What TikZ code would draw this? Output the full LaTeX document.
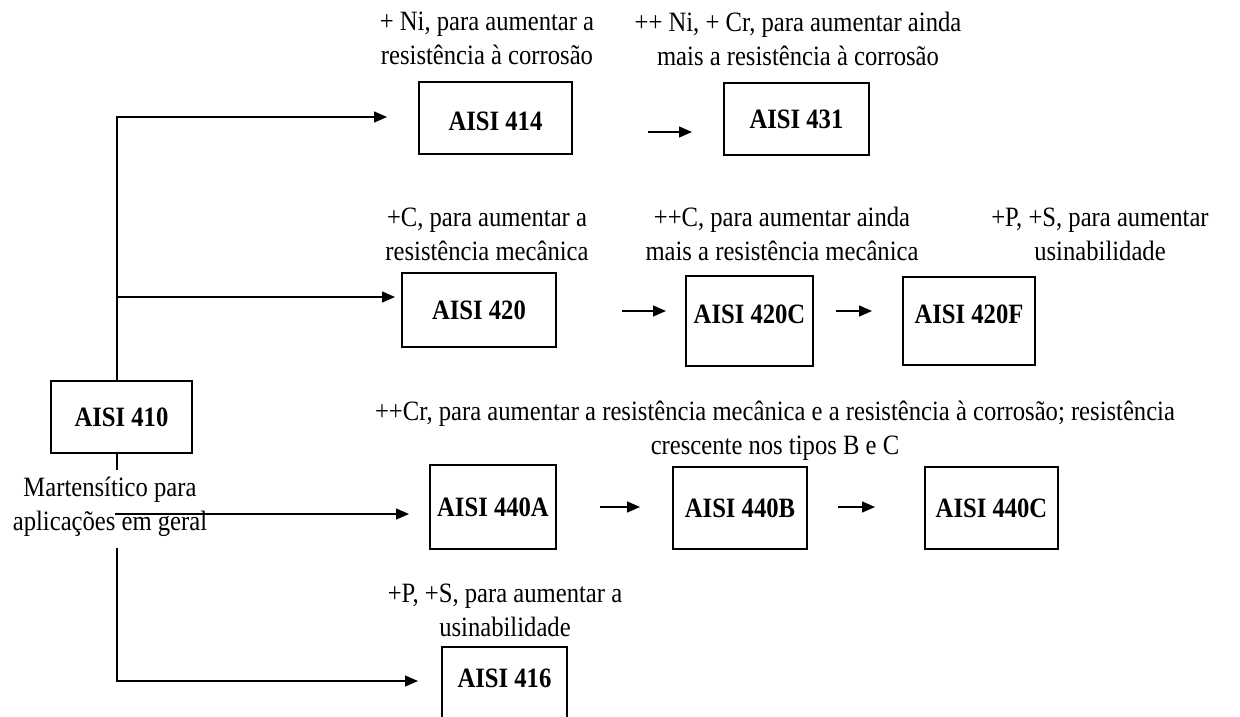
\documentclass[tikz,border=0pt]{standalone}
\usepackage{fontspec}
\setmainfont[FakeStretch=0.88]{Liberation Serif}
\usetikzlibrary{arrows.meta}
\tikzset{
  txt/.style={font=\fontsize{28}{34}\selectfont},
  steel/.style={draw, line width=1.4pt, inner sep=0pt, font=\fontsize{28}{34}\selectfont\bfseries},
  note/.style={txt, align=center, inner sep=0pt},
  arr/.style={line width=1.4pt, -{Triangle[length=13pt,width=11pt]}},
  ln/.style={line width=1.4pt}
}
\begin{document}
\begin{tikzpicture}[x=1pt,y=-1pt]
\useasboundingbox (0,0) rectangle (1240,717);
\fill[white] (0,0) rectangle (1240,717);

% steel grades
\node[steel, minimum width=141pt, minimum height=72pt] (n410) at (121.5,417) {AISI 410};
\node[steel, minimum width=153pt, minimum height=72pt, text height=26pt] (n414) at (495.5,118) {AISI 414};
\node[steel, minimum width=145pt, minimum height=72pt] (n431) at (796.5,119) {AISI 431};
\node[steel, minimum width=154pt, minimum height=74pt] (n420) at (479,310) {AISI 420};
\node[steel, minimum width=127pt, minimum height=90pt, text depth=14pt] (n420C) at (749.5,321) {AISI 420C};
\node[steel, minimum width=132pt, minimum height=88pt, text depth=14pt] (n420F) at (969,321) {AISI 420F};
\node[steel, minimum width=126pt, minimum height=84pt] (n440A) at (493,507) {AISI 440A};
\node[steel, minimum width=134pt, minimum height=82pt] (n440B) at (740,508) {AISI 440B};
\node[steel, minimum width=133pt, minimum height=82pt] (n440C) at (991.5,508) {AISI 440C};
\node[steel, minimum width=125pt, minimum height=83pt, text depth=21pt] (n416) at (504.5,688.5) {AISI 416};

% notes on each alloying step
\node[note] (l414) at (487,38) {+ Ni, para aumentar a\\resistência à corrosão};
\node[note] (l431) at (798,39) {++ Ni, + Cr, para aumentar ainda\\mais a resistência à corrosão};
\node[note] (l420) at (487,234) {+C, para aumentar a\\resistência mecânica};
\node[note] (l420C) at (782,234) {++C, para aumentar ainda\\mais a resistência mecânica};
\node[note] (l420F) at (1100,234) {+P, +S, para aumentar\\usinabilidade};
\node[note] (l440) at (775,431) {++Cr, para aumentar a resistência mecânica e a resistência à corrosão; resistência\\crescente nos tipos B e C};
\node[note] (l416) at (505,610) {+P, +S, para aumentar a\\usinabilidade};
\node[note] (l410) at (110,507) {Martensítico para\\aplicações em geral};

% trunk and branch points
\coordinate (trunk) at (117,0);
\coordinate (t1) at (387,117);
\coordinate (j2) at (117,297);
\coordinate (t2) at (395,297);
\coordinate (m1) at (117,470);
\coordinate (m2) at (115,514);
\coordinate (t3) at (409,514);
\coordinate (m3) at (117,548);
\coordinate (t4) at (418,681);

\draw[arr] (n410.north -| trunk) |- (t1);
\draw[arr] (j2) -- (t2);
\draw[ln] (n410.south -| trunk) -- (m1);
\draw[arr] (m2) -- (t3);
\draw[arr] (m3) |- (t4);

% arrows between successive grades
\coordinate (s1) at (648,132); \coordinate (e1) at (692,132);
\coordinate (s2) at (622,311); \coordinate (e2) at (666,311);
\coordinate (s3) at (836,311); \coordinate (e3) at (872,311);
\coordinate (s4) at (600,507); \coordinate (e4) at (640,507);
\coordinate (s5) at (838,507); \coordinate (e5) at (875,507);
\draw[arr] (s1) -- (e1);
\draw[arr] (s2) -- (e2);
\draw[arr] (s3) -- (e3);
\draw[arr] (s4) -- (e4);
\draw[arr] (s5) -- (e5);
\end{tikzpicture}
\end{document}
